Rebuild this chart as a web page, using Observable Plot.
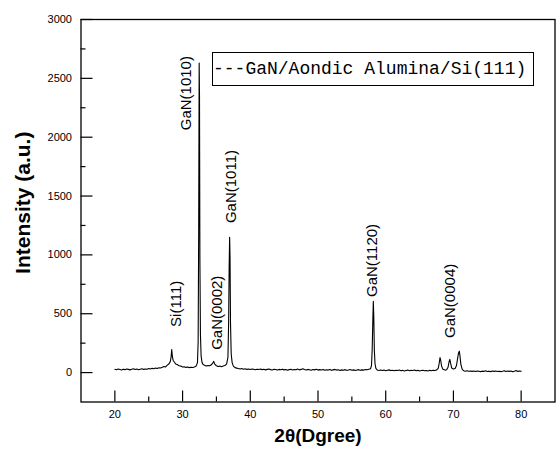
<!DOCTYPE html>
<html><head><meta charset="utf-8">
<script src="https://cdn.jsdelivr.net/npm/d3@7"></script>
<script src="https://cdn.jsdelivr.net/npm/@observablehq/plot@0.6"></script>
<style>
body{margin:0;background:#fff;}
#wrap{position:relative;width:556px;height:450px;}
#legend{position:absolute;left:212px;top:52px;width:320px;height:32px;border:1px solid #000;font:18px "Liberation Mono",monospace;line-height:32px;white-space:nowrap;color:#000;}
</style></head>
<body><div id="wrap"><div id="legend"></div></div>
<script>
// 2θ (degrees)
const twoTheta = [
  20,20.25,20.5,20.75,21,21.25,21.5,21.75,22,22.25,22.5,22.75,23,23.25,23.5,23.75,24,24.25,24.5,24.75,25,
  25.25,25.5,25.75,26,26.25,26.5,26.75,27,27.25,27.5,27.75,28,
  28.2,28.3,28.4,28.5,28.6,28.8,29,29.25,29.5,29.75,30,30.25,30.5,30.75,31,31.25,31.5,31.75,32,
  32.2,32.3,32.38,32.45,32.5,32.56,32.64,32.74,32.88,33,33.25,33.5,33.75,34,34.25,34.5,34.6,34.75,35,35.25,35.5,35.75,36,36.25,36.5,
  36.7,36.8,36.88,36.95,37.01,37.08,37.18,37.32,37.5,37.75,38,
  38.25,38.5,38.75,39,39.25,39.5,39.75,40,40.25,40.5,
  40.75,41,41.25,41.5,41.75,42,42.25,42.5,42.75,43,
  43.25,43.5,43.75,44,44.25,44.5,44.75,45,45.25,45.5,
  45.75,46,46.25,46.5,46.75,47,47.25,47.5,47.75,48,
  48.25,48.5,48.75,49,49.25,49.5,49.75,50,50.25,50.5,
  50.75,51,51.25,51.5,51.75,52,52.25,52.5,52.75,53,
  53.25,53.5,53.75,54,54.25,54.5,54.75,55,55.25,55.5,
  55.75,56,56.25,56.5,56.75,57,57.25,57.5,
  57.75,57.9,58,58.1,58.17,58.24,58.32,58.42,58.55,58.7,58.85,
  59,59.25,59.5,59.75,60,60.25,60.5,60.75,61,61.25,
  61.5,61.75,62,62.25,62.5,62.75,63,63.25,63.5,63.75,
  64,64.25,64.5,64.75,65,65.25,65.5,65.75,66,66.25,
  66.5,66.75,67,67.25,67.5,
  67.75,67.9,68.02,68.12,68.25,68.45,68.75,69,69.2,69.35,69.47,69.58,69.75,70,70.25,70.45,70.62,70.75,70.87,70.97,71.1,71.3,71.5,
  71.75,72,72.25,72.5,72.75,73,73.25,73.5,73.75,74,
  74.25,74.5,74.75,75,75.25,75.5,75.75,76,76.25,76.5,
  76.75,77,77.25,77.5,77.75,78,78.25,78.5,78.75,79,
  79.25,79.5,79.75,80
];
// Intensity (a.u.)
const intensity = [
  28,24,30,26,22,29,25,31,27,23,28,32,26,30,24,29,33,27,31,28,34,
  30,36,33,38,35,41,39,45,52,48,63,75,
  95,130,195,135,105,88,72,66,58,55,48,50,44,47,42,45,43,48,55,
  85,260,1200,2630,2350,950,320,140,85,70,62,55,60,58,66,85,95,72,58,52,55,50,56,60,72,
  130,420,900,1150,980,420,160,85,55,42,38,
  35,31,34,29,32,27,30,26,31,28,
  24,29,26,30,25,28,23,27,30,25,
  22,28,26,21,27,24,29,23,26,20,
  25,28,22,26,24,30,23,27,33,26,
  22,27,24,20,26,23,28,21,25,22,
  27,20,24,21,26,19,23,27,21,24,
  18,23,20,25,19,22,26,20,23,18,
  22,25,19,23,21,26,24,28,
  32,60,190,450,605,470,190,75,35,24,20,
  18,22,17,21,16,20,23,17,19,15,
  20,18,22,16,19,14,18,21,15,19,
  17,22,16,19,14,18,20,15,18,14,
  19,16,20,17,22,
  35,80,128,105,55,28,21,24,45,90,112,80,38,30,34,60,120,165,182,140,70,28,16,
  12,16,11,14,10,13,9,14,11,8,
  12,10,15,9,12,8,13,10,14,9,
  12,8,11,15,9,13,10,14,8,12,
  17,10,14,11
];
if (twoTheta.length !== intensity.length) throw new Error("length mismatch " + twoTheta.length + " vs " + intensity.length);

const peakNames = ["Si(111)", "GaN(1010)", "GaN(0002)", "GaN(1011)", "GaN(1120)", "GaN(0004)"];
const peakTheta = [29.0, 30.5, 35.1, 37.2, 58.06, 69.5];
const peakLabelBase = [388, 2059, 193, 1270, 642, 294];

const xTicks = [20, 30, 40, 50, 60, 70, 80];
const xMinorTicks = [25, 35, 45, 55, 65, 75];
const yTicks = [0, 500, 1000, 1500, 2000, 2500, 3000];
const yMinorTicks = [250, 750, 1250, 1750, 2250, 2750];
const xTitle = "2θ(Dgree)";
const yTitle = "Intensity (a.u.)";
const legendLabel = "---GaN/Aondic Alumina/Si(111)";

const pattern = twoTheta.map((t, i) => ({t, v: intensity[i]}));
const labels = peakNames.map((n, i) => ({n, t: peakTheta[i], v: peakLabelBase[i]}));
const sans = "Liberation Sans, Arial, sans-serif";
const plain = d => String(d);

const chart = Plot.plot({
  width: 556,
  height: 450,
  marginTop: 19,
  marginLeft: 80.5,
  marginRight: 1.5,
  marginBottom: 48.5,
  style: {background: "white", color: "black", fontFamily: sans},
  x: {domain: [15, 85]},
  y: {domain: [-250, 3000]},
  marks: [
    Plot.axisY({ticks: yTicks, tickSize: -12, tickPadding: 21, tickFormat: plain, fontSize: 11, label: null, strokeWidth: 1.2}),
    Plot.axisY({ticks: yMinorTicks, tickSize: -5, tickFormat: () => "", label: null, strokeWidth: 1.2}),
    Plot.axisX({ticks: xTicks, tickSize: -11, tickPadding: 19, tickFormat: plain, fontSize: 11, label: null, strokeWidth: 1.2}),
    Plot.axisX({ticks: xMinorTicks, tickSize: -5, tickFormat: () => "", label: null, strokeWidth: 1.2}),
    Plot.frame({stroke: "black", strokeWidth: 1.3}),
    Plot.line(pattern, {x: "t", y: "v", stroke: "black", strokeWidth: 1.1}),
    Plot.text(labels, {x: "t", y: "v", text: "n", rotate: -90, textAnchor: "start", fontSize: 15, fontFamily: sans, fill: "black"}),
    Plot.text([yTitle], {text: d => d, frameAnchor: "left", textAnchor: "middle", rotate: -90, dx: -58, dy: -8, fontSize: 21, fontWeight: "bold", fontFamily: sans, fill: "black", style: {letterSpacing: "1.3px"}}),
    Plot.text([xTitle], {text: d => d, frameAnchor: "bottom", dy: 40, fontSize: 19, fontWeight: "bold", fontFamily: sans, fill: "black"})
  ]
});
document.getElementById("wrap").prepend(chart);
document.getElementById("legend").textContent = legendLabel;
</script>
</body></html>
